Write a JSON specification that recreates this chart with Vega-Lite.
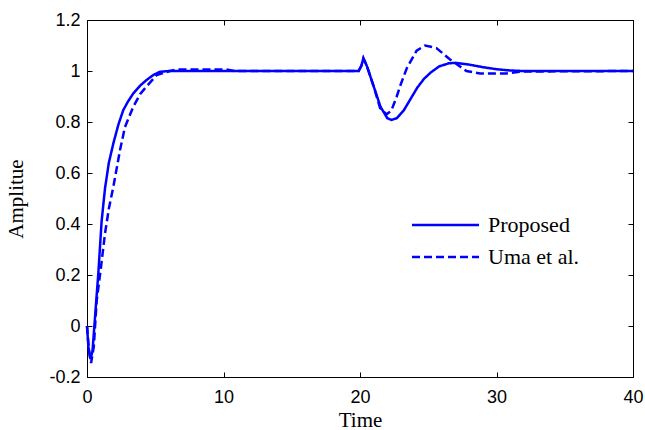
{
  "$schema": "https://vega.github.io/schema/vega-lite/v6.json",
  "width": 546,
  "height": 357,
  "autosize": {"type": "none"},
  "padding": {"left": 87, "top": 20, "right": 12, "bottom": 53},
  "background": "white",
  "config": {
    "view": {"stroke": "black", "strokeWidth": 1},
    "axis": {
      "grid": false,
      "domain": false,
      "tickColor": "black",
      "tickSize": -5,
      "labelFlush": false,
      "labelFont": "Liberation Sans",
      "labelFontSize": 18,
      "labelColor": "black",
      "titleFont": "Liberation Serif",
      "titleFontSize": 21,
      "titleFontWeight": "normal",
      "titleColor": "black"
    },
    "legend": {"labelFont": "Liberation Serif", "labelFontSize": 22}
  },
  "data": {
    "values": [
      {"t": 0, "v": 0.0, "s": "Proposed"},
      {"t": 0.1, "v": -0.08, "s": "Proposed"},
      {"t": 0.25, "v": -0.13, "s": "Proposed"},
      {"t": 0.4, "v": -0.1, "s": "Proposed"},
      {"t": 0.59, "v": 0.036, "s": "Proposed"},
      {"t": 0.83, "v": 0.207, "s": "Proposed"},
      {"t": 1.07, "v": 0.41, "s": "Proposed"},
      {"t": 1.32, "v": 0.54, "s": "Proposed"},
      {"t": 1.6, "v": 0.64, "s": "Proposed"},
      {"t": 1.93, "v": 0.716, "s": "Proposed"},
      {"t": 2.3, "v": 0.79, "s": "Proposed"},
      {"t": 2.66, "v": 0.847, "s": "Proposed"},
      {"t": 3.0, "v": 0.88, "s": "Proposed"},
      {"t": 3.39, "v": 0.912, "s": "Proposed"},
      {"t": 3.9, "v": 0.943, "s": "Proposed"},
      {"t": 4.37, "v": 0.965, "s": "Proposed"},
      {"t": 4.85, "v": 0.984, "s": "Proposed"},
      {"t": 5.35, "v": 0.997, "s": "Proposed"},
      {"t": 6.0, "v": 1.0, "s": "Proposed"},
      {"t": 19.9, "v": 1.0, "s": "Proposed"},
      {"t": 20.1, "v": 1.02, "s": "Proposed"},
      {"t": 20.25, "v": 1.05, "s": "Proposed"},
      {"t": 20.5, "v": 1.02, "s": "Proposed"},
      {"t": 21.0, "v": 0.94, "s": "Proposed"},
      {"t": 21.5, "v": 0.86, "s": "Proposed"},
      {"t": 22.0, "v": 0.815, "s": "Proposed"},
      {"t": 22.3, "v": 0.808, "s": "Proposed"},
      {"t": 22.7, "v": 0.815, "s": "Proposed"},
      {"t": 23.2, "v": 0.845, "s": "Proposed"},
      {"t": 23.7, "v": 0.89, "s": "Proposed"},
      {"t": 24.2, "v": 0.935, "s": "Proposed"},
      {"t": 24.7, "v": 0.97, "s": "Proposed"},
      {"t": 25.2, "v": 0.995, "s": "Proposed"},
      {"t": 25.8, "v": 1.018, "s": "Proposed"},
      {"t": 26.5, "v": 1.03, "s": "Proposed"},
      {"t": 27.0, "v": 1.032, "s": "Proposed"},
      {"t": 28.0, "v": 1.025, "s": "Proposed"},
      {"t": 29.0, "v": 1.015, "s": "Proposed"},
      {"t": 30.0, "v": 1.007, "s": "Proposed"},
      {"t": 31.0, "v": 1.002, "s": "Proposed"},
      {"t": 32.0, "v": 1.0, "s": "Proposed"},
      {"t": 40.0, "v": 1.0, "s": "Proposed"},
      {"t": 0, "v": 0.0, "s": "Uma et al."},
      {"t": 0.15, "v": -0.1, "s": "Uma et al."},
      {"t": 0.3, "v": -0.145, "s": "Uma et al."},
      {"t": 0.5, "v": -0.08, "s": "Uma et al."},
      {"t": 0.71, "v": 0.1, "s": "Uma et al."},
      {"t": 1.0, "v": 0.22, "s": "Uma et al."},
      {"t": 1.32, "v": 0.363, "s": "Uma et al."},
      {"t": 1.6, "v": 0.46, "s": "Uma et al."},
      {"t": 1.93, "v": 0.546, "s": "Uma et al."},
      {"t": 2.42, "v": 0.69, "s": "Uma et al."},
      {"t": 2.78, "v": 0.78, "s": "Uma et al."},
      {"t": 3.39, "v": 0.86, "s": "Uma et al."},
      {"t": 3.9, "v": 0.91, "s": "Uma et al."},
      {"t": 4.37, "v": 0.94, "s": "Uma et al."},
      {"t": 5.1, "v": 0.984, "s": "Uma et al."},
      {"t": 6.08, "v": 1.0, "s": "Uma et al."},
      {"t": 6.6, "v": 1.006, "s": "Uma et al."},
      {"t": 10.2, "v": 1.006, "s": "Uma et al."},
      {"t": 10.8, "v": 1.0, "s": "Uma et al."},
      {"t": 19.9, "v": 1.0, "s": "Uma et al."},
      {"t": 20.1, "v": 1.02, "s": "Uma et al."},
      {"t": 20.25, "v": 1.05, "s": "Uma et al."},
      {"t": 20.5, "v": 1.02, "s": "Uma et al."},
      {"t": 21.0, "v": 0.94, "s": "Uma et al."},
      {"t": 21.47, "v": 0.855, "s": "Uma et al."},
      {"t": 21.95, "v": 0.83, "s": "Uma et al."},
      {"t": 22.3, "v": 0.845, "s": "Uma et al."},
      {"t": 22.69, "v": 0.9, "s": "Uma et al."},
      {"t": 23.0, "v": 0.95, "s": "Uma et al."},
      {"t": 23.42, "v": 1.01, "s": "Uma et al."},
      {"t": 24.15, "v": 1.08, "s": "Uma et al."},
      {"t": 24.76, "v": 1.1, "s": "Uma et al."},
      {"t": 25.6, "v": 1.09, "s": "Uma et al."},
      {"t": 26.6, "v": 1.045, "s": "Uma et al."},
      {"t": 27.8, "v": 1.0, "s": "Uma et al."},
      {"t": 28.8, "v": 0.99, "s": "Uma et al."},
      {"t": 30.7, "v": 0.99, "s": "Uma et al."},
      {"t": 31.8, "v": 0.998, "s": "Uma et al."},
      {"t": 40.0, "v": 1.0, "s": "Uma et al."}
    ]
  },
  "layer": [
    {
      "mark": {"type": "line", "color": "#0000ff", "strokeWidth": 2.5},
      "encoding": {
        "x": {
          "field": "t", "type": "quantitative",
          "scale": {"domain": [0, 40], "nice": false, "zero": false},
          "axis": {"values": [0, 10, 20, 30, 40], "title": "Time", "labelPadding": 16, "titlePadding": 3, "orient": "bottom"}
        },
        "y": {
          "field": "v", "type": "quantitative",
          "scale": {"domain": [-0.2, 1.2], "nice": false, "zero": false},
          "axis": {
            "values": [-0.2, 0, 0.2, 0.4, 0.6, 0.8, 1, 1.2],
            "title": "Amplitue",
            "labelPadding": 12,
            "titlePadding": 22,
            "orient": "left",
            "labelExpr": "'' + round(datum.value * 10) / 10"
          }
        },
        "strokeDash": {
          "field": "s", "type": "nominal",
          "scale": {"domain": ["Proposed", "Uma et al."], "range": [[1, 0], [8, 4]]},
          "legend": {
            "title": null,
            "orient": "none",
            "legendX": 347.5,
            "legendY": 194,
            "symbolType": "M-6.7,0H6.7",
            "symbolSize": 100,
            "symbolStrokeWidth": 2.5,
            "symbolStrokeColor": "#0000ff",
            "labelOffset": 31.5,
            "labelFont": "Liberation Serif",
            "labelFontSize": 22,
            "labelColor": "black",
            "rowPadding": 10,
            "encode": {
              "labels": {
                "update": {
                  "font": {"value": "Liberation Serif"},
                  "fontSize": {"value": 22}
                }
              }
            }
          }
        },
        "order": {"field": "t", "type": "quantitative"}
      }
    },
    {
      "mark": {"type": "line", "opacity": 0},
      "encoding": {
        "x": {
          "field": "t", "type": "quantitative",
          "axis": {"values": [0, 10, 20, 30, 40], "orient": "top", "labels": false, "title": null}
        },
        "y": {
          "field": "v", "type": "quantitative",
          "axis": {"values": [-0.2, 0, 0.2, 0.4, 0.6, 0.8, 1, 1.2], "orient": "right", "labels": false, "title": null}
        }
      }
    }
  ]
}
